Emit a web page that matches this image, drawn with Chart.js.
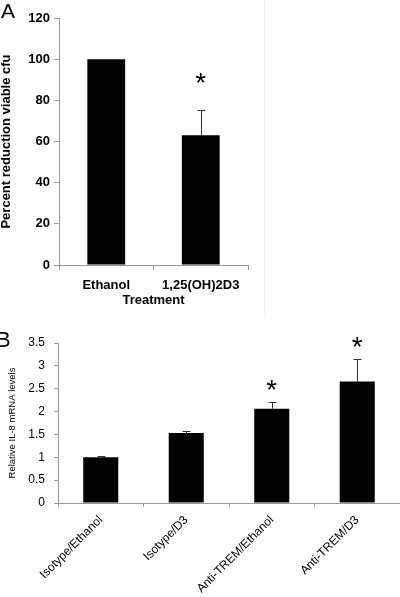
<!DOCTYPE html>
<html>
<head>
<meta charset="utf-8">
<script src="https://cdn.jsdelivr.net/npm/chart.js@4.4.1/dist/chart.umd.min.js"></script>
<style>
  html, body { margin: 0; padding: 0; background: #fff; }
  body { width: 400px; height: 597px; position: relative; overflow: hidden; font-family: "Liberation Sans", Arial, sans-serif; }
  canvas { position: absolute; left: 0; }
  #chartA { top: 0; }
  #chartB { top: 320px; }
  .panel { position: absolute; font-size: 21px; line-height: 21px; color: #000; }
  #frame { position: absolute; left: 264px; top: 0; width: 0; height: 315px; border-left: 1px solid #f2f2f2; }
</style>
</head>
<body>
<div id="frame"></div>
<canvas id="chartA" width="400" height="320"></canvas>
<canvas id="chartB" width="400" height="277"></canvas>
<div class="panel" style="left:1px; top:0">A</div>
<div class="panel" style="left:-4px; top:329px; font-size:22px">B</div>
<script>
// Panel A: percent reduction of viable cfu
const cfuLabels = ["Ethanol", "1,25(OH)2D3"]
const cfuValues = [100, 63]
const cfuErrors = [0, 12.5]
const cfuStars = [false, true]

// Panel B: relative IL-8 mRNA
const il8Labels = ["Isotype/Ethanol", "Isotype/D3", "Anti-TREM/Ethanol", "Anti-TREM/D3"]
const il8Values = [1.0, 1.53, 2.06, 2.66]
const il8Errors = [0.02, 0.05, 0.14, 0.5]
const il8Stars = [false, false, true, true]
const il8Ticks = ["0", "0.5", "1", "1.5", "2", "2.5", "3", "3.5"]

const AXIS = "#999"
const FONT = "'Liberation Sans', Arial, sans-serif"

// Upper error bars with caps, plus a significance star above them.
const errorBarPlugin = {
  id: "errorBars",
  afterDatasetsDraw (chart, args, opts) {
    const { ctx } = chart
    const yScale = chart.scales.y
    const values = chart.data.datasets[0].data
    const bars = chart.getDatasetMeta(0).data

    ctx.save()
    bars.forEach((bar, i) => {
      const err = opts.errors[i] || 0
      const top = yScale.getPixelForValue(values[i] + err)

      if (err > 0) {
        const x = Math.round(bar.x) + 0.5
        const yc = Math.round(top) + 0.5
        ctx.strokeStyle = opts.color
        ctx.lineWidth = 1
        ctx.beginPath()
        ctx.moveTo(x, bar.y)
        ctx.lineTo(x, yc)
        ctx.moveTo(x - opts.capWidth / 2, yc)
        ctx.lineTo(x + opts.capWidth / 2, yc)
        ctx.stroke()
      }

      if (opts.stars[i]) {
        ctx.font = opts.starFont
        ctx.fillStyle = "#000"
        ctx.textAlign = "center"
        ctx.textBaseline = "alphabetic"
        const m = ctx.measureText("*")
        const cy = top - opts.starGap
        ctx.fillText("*", bar.x, cy + (m.actualBoundingBoxAscent - m.actualBoundingBoxDescent) / 2)
      }
    })
    ctx.restore()
  }
}

const boldA = { family: FONT, size: 13, weight: "bold" }

new Chart(document.getElementById("chartA"), {
  type: "bar",
  data: {
    labels: cfuLabels,
    datasets: [{
      data: cfuValues,
      backgroundColor: "#000",
      barPercentage: 0.40,
      categoryPercentage: 1
    }]
  },
  options: {
    responsive: false,
    animation: false,
    devicePixelRatio: 1,
    layout: { padding: { left: 0, right: 152, top: 18, bottom: 0 } },
    plugins: {
      legend: { display: false },
      tooltip: { enabled: false },
      errorBars: { errors: cfuErrors, stars: cfuStars, color: "#333", capWidth: 8, starGap: 32, starFont: `28px ${FONT}` }
    },
    scales: {
      x: {
        grid: { drawOnChartArea: false, tickLength: 5, color: AXIS },
        border: { color: AXIS },
        ticks: { color: "#000", font: boldA, padding: 8, maxRotation: 0 },
        title: { display: true, text: "Treatment", color: "#000", font: boldA, padding: { top: 0, bottom: 12 } },
        afterFit: s => { s.height = 55 }
      },
      y: {
        min: 0,
        max: 120,
        grid: { drawOnChartArea: false, tickLength: 5, color: AXIS },
        border: { color: AXIS },
        ticks: { stepSize: 20, color: "#000", font: boldA, padding: 4 },
        title: { display: true, text: "Percent reduction viable cfu", color: "#000", font: { ...boldA, lineHeight: 1 }, padding: 0 },
        afterFit: s => { s.width = 59 }
      }
    }
  },
  plugins: [errorBarPlugin]
})

new Chart(document.getElementById("chartB"), {
  type: "bar",
  data: {
    labels: il8Labels,
    datasets: [{
      data: il8Values,
      backgroundColor: "#000",
      barPercentage: 0.41,
      categoryPercentage: 1
    }]
  },
  options: {
    responsive: false,
    animation: false,
    devicePixelRatio: 1,
    layout: { padding: { left: 0, right: 0, top: 23, bottom: 0 } },
    plugins: {
      legend: { display: false },
      tooltip: { enabled: false },
      errorBars: { errors: il8Errors, stars: il8Stars, color: "#333", capWidth: 8, starGap: 17, starFont: `28px ${FONT}` }
    },
    scales: {
      x: {
        grid: { drawOnChartArea: false, tickLength: 4, color: AXIS },
        border: { color: AXIS },
        ticks: { color: "#000", font: { family: FONT, size: 12 }, padding: 6, minRotation: 45, maxRotation: 45 },
        afterFit: s => { s.height = 94 }
      },
      y: {
        min: 0,
        max: 3.5,
        grid: { drawOnChartArea: false, tickLength: 4, color: AXIS },
        border: { color: AXIS },
        ticks: { stepSize: 0.5, color: "#000", font: { family: FONT, size: 12 }, padding: 9, callback: (v, i) => il8Ticks[i] },
        title: {
          display: true,
          text: "Relative IL-8 mRNA levels",
          color: "#000",
          font: { family: FONT, size: 9.5, lineHeight: 1.2 },
          padding: { top: 7, bottom: 0 }
        },
        afterFit: s => { s.width = 58 }
      }
    }
  },
  plugins: [errorBarPlugin]
})
</script>
</body>
</html>
